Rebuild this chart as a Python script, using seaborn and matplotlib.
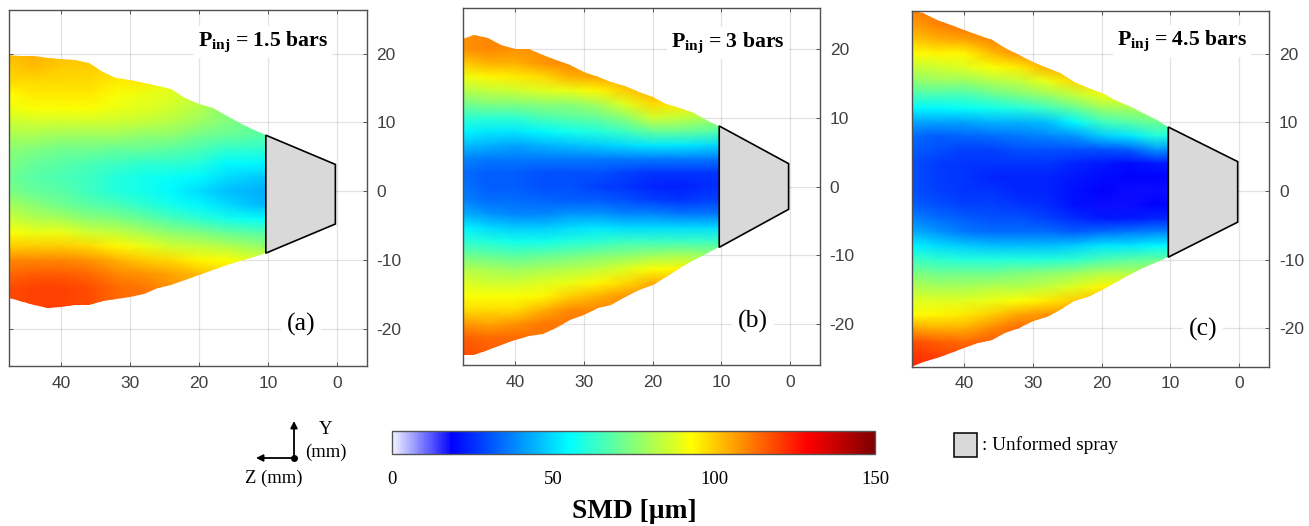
import matplotlib
matplotlib.use("Agg")
import matplotlib.pyplot as plt
import numpy as np
import seaborn as sns
from matplotlib.colors import LinearSegmentedColormap
from matplotlib.patches import Polygon, Rectangle
from matplotlib.path import Path

# table axes: SMD in um, rows run from y=26 down to y=-26, columns from z=48 down to z=8
z_grid = [48, 44, 40, 36, 32, 28, 24, 20, 16, 12, 8]
y_grid = list(range(26, -28, -2))

smd_a = [
    [104, 104, 104, 100, 98, 96, 92, 86, 80, 74, 70],
    [104, 104, 104, 100, 98, 96, 92, 86, 80, 74, 70],
    [102, 104, 104, 100, 98, 96, 92, 86, 80, 74, 70],
    [102, 104, 102, 100, 98, 96, 92, 86, 80, 74, 70],
    [100, 102, 100, 100, 98, 96, 92, 84, 78, 74, 70],
    [98, 98, 98, 98, 96, 96, 90, 84, 78, 74, 70],
    [93, 96, 96, 96, 92, 90, 88, 84, 78, 74, 70],
    [90, 92, 92, 92, 90, 88, 86, 82, 76, 74, 70],
    [85, 86, 86, 86, 85, 84, 82, 78, 74, 72, 70],
    [80, 80, 78, 78, 78, 76, 76, 72, 70, 68, 66],
    [76, 74, 72, 72, 70, 70, 68, 66, 62, 62, 60],
    [74, 70, 68, 66, 64, 62, 62, 60, 54, 54, 52],
    [72, 68, 66, 64, 60, 58, 56, 54, 50, 48, 46],
    [74, 70, 68, 64, 60, 58, 54, 50, 46, 44, 42],
    [80, 76, 72, 68, 66, 62, 58, 54, 50, 46, 44],
    [86, 82, 80, 76, 74, 70, 66, 62, 58, 56, 54],
    [92, 90, 90, 86, 84, 80, 76, 74, 70, 68, 66],
    [100, 100, 100, 98, 94, 90, 86, 84, 82, 78, 76],
    [110, 110, 110, 108, 104, 100, 98, 94, 92, 88, 86],
    [114, 116, 116, 114, 110, 108, 106, 102, 98, 94, 90],
    [118, 120, 120, 118, 114, 112, 108, 104, 98, 94, 90],
    [118, 120, 120, 118, 114, 112, 108, 104, 98, 94, 90],
    [118, 120, 120, 118, 114, 112, 108, 104, 98, 94, 90],
    [118, 120, 120, 118, 114, 112, 108, 104, 98, 94, 90],
    [118, 120, 120, 118, 114, 112, 108, 104, 98, 94, 90],
    [118, 120, 120, 118, 114, 112, 108, 104, 98, 94, 90],
    [118, 120, 120, 118, 114, 112, 108, 104, 98, 94, 90],
]

smd_b = [
    [108, 110, 110, 108, 108, 106, 104, 104, 100, 90, 86],
    [108, 110, 110, 108, 108, 106, 104, 104, 100, 90, 86],
    [108, 110, 110, 108, 108, 106, 104, 104, 100, 90, 86],
    [108, 110, 108, 108, 108, 106, 104, 104, 100, 90, 86],
    [100, 104, 104, 108, 110, 106, 104, 104, 100, 90, 86],
    [90, 94, 96, 98, 104, 106, 104, 104, 100, 90, 86],
    [82, 84, 86, 88, 90, 94, 100, 104, 100, 90, 86],
    [72, 74, 74, 76, 76, 80, 88, 98, 96, 88, 84],
    [62, 62, 62, 66, 68, 70, 76, 86, 84, 80, 78],
    [54, 52, 52, 54, 58, 60, 64, 70, 70, 68, 66],
    [46, 44, 42, 44, 46, 48, 50, 52, 52, 50, 48],
    [38, 36, 36, 36, 36, 36, 36, 36, 36, 36, 34],
    [34, 32, 32, 30, 30, 30, 28, 26, 26, 26, 26],
    [36, 32, 32, 30, 30, 28, 26, 24, 23, 25, 25],
    [38, 34, 34, 33, 32, 32, 30, 28, 26, 28, 28],
    [44, 40, 38, 38, 40, 40, 38, 38, 36, 36, 36],
    [54, 50, 48, 48, 50, 52, 50, 50, 50, 50, 50],
    [62, 60, 58, 58, 60, 62, 64, 64, 64, 64, 64],
    [72, 70, 68, 70, 72, 74, 76, 78, 80, 78, 78],
    [82, 80, 78, 80, 82, 84, 88, 92, 94, 90, 90],
    [88, 86, 86, 88, 90, 94, 98, 104, 104, 96, 96],
    [92, 92, 92, 94, 100, 104, 108, 108, 104, 96, 96],
    [98, 98, 98, 104, 110, 110, 108, 108, 104, 96, 96],
    [108, 106, 108, 112, 112, 110, 108, 108, 104, 96, 96],
    [116, 114, 114, 112, 112, 110, 108, 108, 104, 96, 96],
    [118, 116, 114, 112, 112, 110, 108, 108, 104, 96, 96],
    [118, 116, 114, 112, 112, 110, 108, 108, 104, 96, 96],
]

smd_c = [
    [110, 112, 112, 112, 110, 108, 104, 100, 96, 90, 84],
    [106, 110, 112, 112, 110, 108, 104, 100, 96, 90, 84],
    [100, 104, 106, 110, 110, 108, 104, 100, 96, 90, 84],
    [92, 94, 94, 102, 108, 108, 104, 100, 96, 90, 84],
    [84, 86, 88, 92, 96, 104, 104, 100, 96, 90, 84],
    [76, 78, 78, 82, 84, 90, 98, 100, 96, 90, 84],
    [66, 66, 66, 70, 74, 78, 84, 90, 92, 88, 84],
    [54, 54, 56, 58, 60, 64, 70, 78, 80, 80, 78],
    [42, 42, 42, 44, 44, 46, 54, 64, 68, 72, 70],
    [34, 32, 33, 34, 36, 38, 40, 48, 52, 60, 58],
    [32, 30, 28, 28, 30, 30, 30, 30, 32, 40, 38],
    [30, 27, 26, 26, 26, 26, 24, 22, 20, 22, 22],
    [30, 27, 26, 24, 24, 24, 22, 20, 19, 19, 19],
    [30, 28, 26, 26, 24, 24, 21, 19, 18, 18, 18],
    [32, 30, 28, 28, 26, 25, 21, 18, 18, 19, 19],
    [38, 34, 32, 30, 30, 28, 25, 22, 22, 24, 24],
    [44, 40, 36, 34, 34, 34, 32, 34, 36, 38, 38],
    [54, 50, 48, 46, 46, 46, 48, 52, 52, 54, 54],
    [64, 62, 60, 60, 60, 60, 62, 66, 68, 70, 70],
    [74, 72, 72, 72, 74, 76, 78, 82, 82, 82, 82],
    [82, 80, 80, 82, 82, 84, 88, 94, 94, 92, 92],
    [88, 88, 88, 90, 92, 96, 100, 104, 100, 92, 92],
    [92, 94, 96, 100, 106, 108, 108, 104, 100, 92, 92],
    [106, 104, 104, 110, 114, 112, 108, 104, 100, 92, 92],
    [118, 116, 114, 116, 114, 112, 108, 104, 100, 92, 92],
    [122, 120, 118, 116, 114, 112, 108, 104, 100, 92, 92],
    [124, 120, 118, 116, 114, 112, 108, 104, 100, 92, 92],
]

# spray outline, left to right
edge_z = [48, 46, 44, 42, 40, 38, 36, 34, 32, 30, 28, 26, 24, 22, 20, 18, 16, 14, 12, 10.3]
top_a = [19.8, 19.6, 19.6, 19.4, 19.2, 19.1, 18.6, 17.4, 16.5, 16.2, 15.7, 15.3, 14.9, 13.5, 12.7, 12.1, 10.9, 9.9, 8.9, 8.2]
bottom_a = [-15.3, -16, -16.5, -17, -16.8, -16.5, -16.5, -16, -15.6, -15.3, -14.9, -14.1, -13.6, -12.9, -12.2, -11.5, -10.7, -10.2, -9.5, -9]
top_b = [21.4, 22, 21.6, 20.6, 20.1, 20.1, 19.2, 18.4, 17.7, 16.7, 16, 15.3, 14.7, 13.8, 13.1, 12.1, 11.4, 10.7, 9.5, 8.8]
bottom_b = [-24.5, -24.5, -23.8, -23, -22.3, -21.8, -21.4, -20.6, -19.4, -18.7, -17.7, -17.2, -16, -15, -14.3, -13.1, -11.9, -10.7, -9.7, -8.8]
top_c = [26.4, 25.9, 24.9, 24.2, 23.4, 22.7, 22, 20.8, 19.8, 18.8, 17.9, 17.1, 15.9, 15, 14.2, 13.3, 12.3, 11.3, 10.3, 9.3]
bottom_c = [-25.8, -24.9, -24.4, -23.6, -22.9, -22.2, -21.7, -20.7, -20, -19, -18.3, -17.3, -16.1, -15.4, -14.4, -13.4, -12.2, -11.3, -10.3, -9.65]

# unformed spray trapezoids: z of both sides, then y of the four corners
nozzle_z = [10.3, 0.2]
nozzle_a = [8.15, 3.9, -4.76, -9.0]
nozzle_b = [8.83, 3.35, -3.3, -8.83]
nozzle_c = [9.3, 4.26, -4.55, -9.65]

z_ticks = [40, 30, 20, 10, 0]
y_ticks = [20, 10, 0, -10, -20]
cbar_ticks = [0, 50, 100, 150]
titles = ["= 1.5 bars", "= 3 bars", "= 4.5 bars"]
tags = ["(a)", "(b)", "(c)"]

W, H = 1309, 526
GRAY = "#404040"
SERIF = "Liberation Serif"

sns.set_style("white")
plt.rcParams["font.family"] = ["Liberation Sans", "DejaVu Sans"]
plt.rcParams["text.color"] = "black"
plt.rcParams["xtick.color"] = "black"
plt.rcParams["mathtext.fontset"] = "custom"
plt.rcParams["mathtext.bf"] = "Liberation Serif:bold"
plt.rcParams["mathtext.rm"] = "Liberation Serif:bold"

smd_cmap = LinearSegmentedColormap.from_list(
    "smd",
    [
        (0.0, (0.95, 0.95, 1.0)),
        (18.5 / 150, (0, 0, 1)),
        (55 / 150, (0, 1, 1)),
        (93 / 150, (1, 1, 0)),
        (129 / 150, (1, 0, 0)),
        (1.0, (0.5, 0, 0)),
    ],
)


def add_axes_px(fig, left, top, right, bottom):
    return fig.add_axes([left / W, 1 - bottom / H, (right - left) / W, (bottom - top) / H])


def col(z):
    return (z_grid[0] - z) / (z_grid[0] - z_grid[1])


def row(y):
    return (y_grid[0] - y) / (y_grid[0] - y_grid[1])


fig = plt.figure(figsize=(W / 100, H / 100), dpi=100)

panels = [
    dict(box=(9, 10.3, 366.7, 366), zlim=(47.6, -4.35), ylim=(26.3, -25.4), smd=smd_a,
         top=top_a, bottom=bottom_a, nozzle=nozzle_a, title_xy=(263, 42), tag_xy=(301, 324)),
    dict(box=(463.3, 8, 820, 365.3), zlim=(47.55, -4.37), ylim=(26.0, -26.0), smd=smd_b,
         top=top_b, bottom=bottom_b, nozzle=nozzle_b, title_xy=(728, 43), tag_xy=(753, 321)),
    dict(box=(912.3, 11.3, 1269.3, 366.7), zlim=(47.56, -4.4), ylim=(26.15, -25.6), smd=smd_c,
         top=top_c, bottom=bottom_c, nozzle=nozzle_c, title_xy=(1182, 41), tag_xy=(1203, 329)),
]

overlay = fig.add_axes([0, 0, 1, 1], zorder=10)
overlay.set_xlim(0, W)
overlay.set_ylim(H, 0)
overlay.axis("off")

mesh = None
for i, p in enumerate(panels):
    ax = add_axes_px(fig, *p["box"])
    sns.heatmap(np.array(p["smd"], dtype=float), ax=ax, cmap=smd_cmap, vmin=0, vmax=150,
                cbar=False, xticklabels=False, yticklabels=False, shading="gouraud")
    mesh = ax.collections[0]

    outline = [(col(z), row(y)) for z, y in zip(edge_z, p["top"])]
    outline += [(col(z), row(y)) for z, y in zip(edge_z[::-1], p["bottom"][::-1])]
    mesh.set_clip_path(Path(outline + outline[:1]), ax.transData)

    ax.set_xlim(col(p["zlim"][0]), col(p["zlim"][1]))
    ax.set_ylim(row(p["ylim"][1]), row(p["ylim"][0]))
    ax.set_xticks([col(z) for z in z_ticks], [str(z) for z in z_ticks])
    ax.set_yticks([row(y) for y in y_ticks], [str(y) for y in y_ticks])
    ax.yaxis.tick_right()
    ax.tick_params(direction="in", length=3, width=0.7, color="#555555", labelcolor=GRAY,
                   labelsize=12.5, top=True, bottom=True, left=True, right=True,
                   labelbottom=True, labelright=True, labelleft=False, pad=7)
    ax.grid(True, color="black", alpha=0.11, linewidth=0.9)
    for spine in ax.spines.values():
        spine.set_visible(True)
        spine.set_color("#505050")
        spine.set_linewidth(1.0)

    n = p["nozzle"]
    z0, z1 = nozzle_z
    corners = [(col(z0), row(n[0])), (col(z1), row(n[1])), (col(z1), row(n[2])), (col(z0), row(n[3]))]
    ax.add_patch(Polygon(corners, closed=True, facecolor="#d9d9d9", edgecolor="black", linewidth=1.2, zorder=3))

    overlay.text(*p["title_xy"], r"$\mathbf{P_{inj}}$ " + titles[i], family=SERIF, weight="bold", fontsize=15.7,
                 ha="center", va="center", bbox=dict(facecolor="white", edgecolor="none", pad=3))
    overlay.text(*p["tag_xy"], tags[i], family=SERIF, fontsize=18.5, ha="center", va="center",
                 bbox=dict(facecolor="white", edgecolor="none", pad=4))

# colour bar
cax = add_axes_px(fig, 392, 431, 875, 454)
cbar = fig.colorbar(mesh, cax=cax, orientation="horizontal")
cbar.set_ticks(cbar_ticks)
cbar.ax.tick_params(direction="in", length=2, width=0.7, color="#333333", labelcolor="black", labelsize=13.5, pad=12)
for label in cbar.ax.get_xticklabels():
    label.set_family(SERIF)
cbar.outline.set_edgecolor("#555555")
cbar.outline.set_linewidth(1.0)

overlay.text(634, 511, "SMD [µm]", family=SERIF, weight="bold", fontsize=19.7, ha="center", va="center")

# axis direction sketch
for end in [(294, 421), (256, 458)]:
    overlay.annotate("", xy=end, xytext=(294, 458),
                     arrowprops=dict(arrowstyle="-|>", color="black", lw=1.3, shrinkA=0, shrinkB=0, mutation_scale=10))
overlay.plot([294], [458], "o", color="black", markersize=4)
overlay.text(326, 429, "Y", family=SERIF, fontsize=13.4, ha="center", va="center")
overlay.text(326, 452, "(mm)", family=SERIF, fontsize=13.4, ha="center", va="center")
overlay.text(274, 478, "Z (mm)", family=SERIF, fontsize=13.4, ha="center", va="center")

# unformed spray key
overlay.add_patch(Rectangle((954, 433), 23, 24, facecolor="#d9d9d9", edgecolor="black", linewidth=1.1))
overlay.text(982, 445, ": Unformed spray", family=SERIF, fontsize=13.9, ha="left", va="center")

fig.savefig("out.png", dpi=100)
plt.close(fig)
